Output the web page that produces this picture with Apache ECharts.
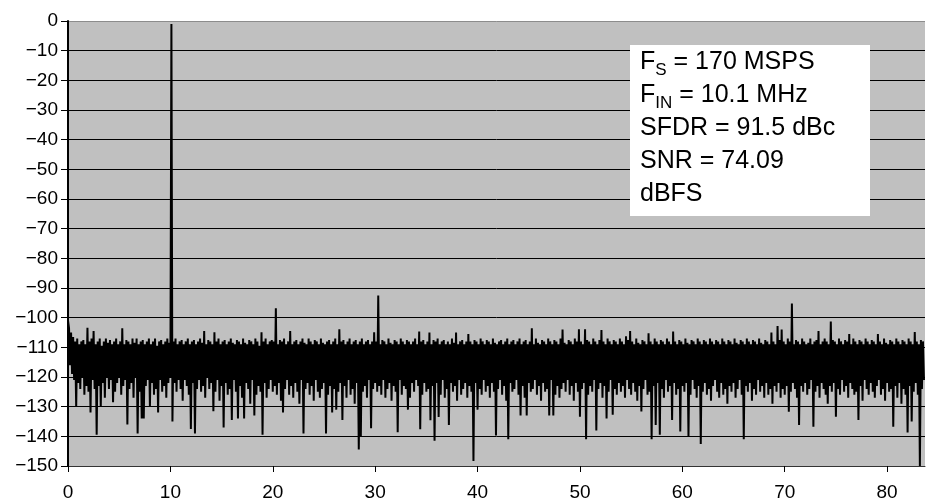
<!DOCTYPE html>
<html>
<head>
<meta charset="utf-8">
<script src="https://cdn.jsdelivr.net/npm/echarts@6/dist/echarts.min.js"></script>
<style>html,body{margin:0;padding:0;background:#fff;}#c{width:927px;height:504px;}</style>
</head>
<body>
<div id="c"></div>
<script>
// FFT magnitude (dBFS) in bins every 0.1 MHz; one row = 1 MHz.
var binStep = 0.1;
var fft0_10 = [
-101,-103.5,-116,-105,-119,-106.5,-121,-108,-130,-107,
-122,-109,-124,-108,-120,-107.5,-126,-109,-123,-103.4,
-125,-108,-132,-107,-121,-104.5,-124,-109,-139.5,-108,
-123,-107,-130,-109.5,-122,-108,-127,-107,-120,-108.5,
-124,-107.5,-121,-109,-128.5,-108,-125,-107,-122,-109,
-120,-108,-126,-103.6,-123,-109,-121,-107.5,-136,-108,
-124,-109,-122,-107,-127,-108.5,-120,-107,-139,-109,
-125,-108,-134,-107.5,-134,-109,-123,-108,-121,-107,
-130,-109,-122,-108,-126,-107,-124,-109.5,-132,-108,
-121,-107.5,-125,-109,-123,-108,-127,-107,-122,-108.5];
var fft10_20 = [
-120,-1,-135,-108,-122,-107,-125,-109,-121,-108,
-124,-107.5,-128,-109,-121,-108,-123,-107,-126,-109,
-137.5,-108,-122,-107.5,-139,-109,-124,-108,-121,-107,
-125,-108.5,-123,-104.5,-127,-109,-120,-107.5,-124,-108,
-122,-109,-131.5,-104.9,-125,-108,-121,-107,-128,-109,
-123,-108,-137,-107.5,-122,-109,-126,-108,-124,-107,
-134.5,-108.5,-121,-109,-125,-107.5,-134,-108,-123,-109,
-127,-107,-134,-108.5,-122,-109,-124,-107.5,-129,-108,
-121,-109,-133,-107,-126,-108,-123,-109.5,-125,-104.9,
-139.5,-108,-122,-107,-127,-109,-124,-108,-121,-107.5];
var fft20_30 = [
-125,-108,-123,-96.8,-126,-109,-122,-107.5,-128,-108,
-132,-107,-124,-109,-121,-108,-126,-104.5,-123,-109,
-127,-108,-122,-107.5,-125,-109,-129,-108,-121,-107,
-139,-108.5,-124,-109,-122,-107,-126,-108,-123,-109,
-128,-107.5,-121,-108,-125,-109,-127,-107,-124,-108.5,
-122,-109,-139,-108,-126,-107.5,-123,-109,-132,-108,
-124,-107,-131,-109,-125,-103.9,-122,-108,-134.5,-107.5,
-123,-109,-127,-108,-121,-107,-126,-109,-124,-108,
-129,-107.5,-122,-109,-144.4,-108,-140,-107,-125,-109,
-123,-108,-127,-107.5,-121,-109,-137.3,-108,-124,-104.9];
var fft30_40 = [
-122,-108,-125,-92.5,-123,-109,-126,-107.5,-121,-108,
-127,-109,-124,-107,-122,-108.5,-128,-109,-123,-107.5,
-125,-108,-138.6,-109,-121,-107,-126,-108,-123,-109,
-124,-107.5,-131,-108,-127,-109,-122,-108,-125,-107,
-121,-109,-123,-104.7,-137.6,-108,-126,-107.5,-122,-109,
-125,-108,-124,-105,-134.6,-109,-123,-107.5,-141.5,-108,
-122,-107,-133.5,-109,-126,-108,-121,-107.5,-127,-109,
-124,-108,-136.2,-109,-122,-107,-125,-108.5,-123,-105,
-128,-109,-121,-108,-126,-107.5,-124,-109,-122,-108,
-127,-105.5,-123,-108,-125,-109,-148.3,-107.5,-122,-108];
var fft40_50 = [
-131,-109,-124,-107,-126,-108,-121,-109,-125,-107.5,
-123,-108,-127,-109,-122,-107,-125,-108.5,-139.7,-109,
-124,-108,-121,-107.5,-126,-109,-123,-108,-128,-107,
-141,-109,-122,-108,-125,-107.5,-124,-109,-121,-108,
-126,-107,-133,-109,-123,-108,-127,-107.5,-133,-109,
-122,-108,-125,-103.6,-124,-109,-121,-107,-126,-108.5,
-123,-109,-128,-107.5,-122,-108,-125,-109,-124,-107,
-133,-108,-121,-109,-133,-107.5,-126,-108,-123,-109,
-127,-107,-124,-104,-122,-108.5,-125,-109,-121,-107.5,
-126,-108,-123,-109,-128,-107,-122,-108,-125,-103.9];
var fft50_60 = [
-133.4,-108,-124,-109,-122,-103.9,-141,-107.5,-126,-108,
-123,-109,-125,-107,-121,-108,-138,-109,-124,-107.5,
-122,-104.2,-127,-108,-123,-109,-134,-107,-125,-108,
-121,-109,-132.7,-107.5,-124,-108,-126,-109,-122,-107,
-125,-108,-123,-109,-127,-106.3,-121,-107.5,-124,-104.5,
-126,-108,-122,-109,-125,-107,-128,-108.5,-123,-109,
-131.6,-107.5,-124,-108,-121,-109,-126,-105.3,-125,-108,
-141,-109,-123,-107,-136.2,-108,-122,-109,-139.5,-107.5,
-124,-108,-127,-109,-121,-107,-125,-108,-123,-109,
-134.5,-104.7,-122,-108,-126,-109,-124,-107.5,-138.4,-108];
var fft60_70 = [
-123,-109,-125,-107,-122,-108.5,-140,-109,-126,-107.5,
-121,-108,-124,-109,-127,-107,-123,-108,-142.6,-109,
-125,-107.5,-122,-108,-126,-109,-124,-107,-128,-108,
-123,-109,-121,-107.5,-125,-108,-127,-109,-122,-107,
-126,-108,-124,-109,-129,-107.5,-123,-108,-125,-109,
-122,-107,-127,-108.5,-124,-109,-121,-107.5,-126,-108,
-141,-109,-123,-107,-125,-108,-122,-109,-128,-107.5,
-124,-108,-126,-109,-121,-107,-125,-108.5,-123,-109,
-127,-107.5,-122,-108,-126,-109,-124,-105,-129,-108,
-123,-109,-125,-102.8,-122,-107.5,-127,-104,-124,-108];
var fft70_80 = [
-126,-109,-123,-107,-131.7,-108,-125,-95.2,-122,-109,
-124,-107.5,-127,-108,-136.2,-109,-123,-107,-125,-108,
-122,-109,-126,-108.5,-124,-107,-121,-109,-136.8,-108,
-125,-107.5,-123,-104.5,-127,-109,-122,-108,-124,-107,
-126,-108,-129,-109,-123,-101.3,-125,-107.5,-122,-108,
-133.4,-109,-124,-107,-126,-108,-121,-109,-125,-107.5,
-123,-108,-127,-105.5,-122,-109,-124,-107,-126,-108,
-125,-109,-134.5,-107.5,-123,-108,-128,-109,-121,-107,
-124,-108,-126,-109,-122,-107.5,-125,-108,-127,-109,
-123,-105.5,-121,-108,-126,-109,-124,-107,-128,-108.5];
var fft80_84 = [
-122,-109,-125,-107.5,-124,-108,-136.8,-109,-123,-107,
-127,-108,-122,-109,-129,-107.5,-124,-108,-126,-109,
-138.7,-107,-123,-108,-135,-109,-125,-104.8,-122,-108,
-126,-109,-150,-107.5,-124,-108,-121];
var xTicks = [0,10,20,30,40,50,60,70,80];
var yTicks = [0,-10,-20,-30,-40,-50,-60,-70,-80,-90,-100,-110,-120,-130,-140,-150];
var infoLines = ['F|S| = 170 MSPS','F|IN| = 10.1 MHz','SFDR = 91.5 dBc','SNR = 74.09','dBFS'];

var values = [].concat(fft0_10,fft10_20,fft20_30,fft30_40,fft40_50,fft50_60,fft60_70,fft70_80,fft80_84);
var data = values.map(function(v,i){ return [Math.round(i*binStep*100)/100, v]; });

var FONT = 'Liberation Sans, Arial, sans-serif';
var richText = infoLines.map(function(l){
  var p = l.split('|');
  if (p.length === 3) return '{n|'+p[0]+'}{s|'+p[1]+'}{n|'+p[2]+'}';
  return '{n|'+l+'}';
}).join('\n');

var splitColors = yTicks.slice().reverse().map(function(t){ return t === 0 ? '#8c8c8c' : '#000'; });

var chart = echarts.init(document.getElementById('c'), null, {renderer:'canvas'});
chart.setOption({
  animation:false,
  backgroundColor:'#fff',
  grid:{left:68, top:21, right:2, bottom:38, show:true, backgroundColor:'#c0c0c0', borderWidth:0},
  xAxis:{
    type:'value', min:0, max:83.7, interval:10,
    axisLine:{show:true, onZero:false, lineStyle:{color:'#333', width:1}},
    axisTick:{show:true, length:6, inside:false, customValues:xTicks, lineStyle:{color:'#000'}},
    axisLabel:{customValues:xTicks, fontFamily:FONT, fontSize:19, color:'#000', margin:17},
    splitLine:{show:false}
  },
  yAxis:{
    type:'value', min:-150, max:0, interval:10,
    axisLine:{show:true, lineStyle:{color:'#000', width:2}},
    axisTick:{show:true, length:7, lineStyle:{color:'#000'}},
    axisLabel:{fontFamily:FONT, fontSize:19, color:'#000', margin:10,
      formatter:function(v){ return v<0 ? '\u2212'+Math.abs(v) : String(v); }},
    splitLine:{show:true, lineStyle:{color:splitColors, width:1}}
  },
  series:[{
    type:'line', data:data, showSymbol:false, symbol:'none', sampling:false,
    lineStyle:{color:'#000', width:2}, clip:true, z:3
  }],
  graphic:[
    {type:'rect', left:630, top:45, z:10, shape:{width:240, height:171}, style:{fill:'#fff'}},
    {type:'text', left:640, top:50, z:11, style:{
      text:richText, fill:'#000', font:'25px '+FONT,
      rich:{
        n:{fontSize:25, lineHeight:33, fontFamily:FONT, fill:'#000'},
        s:{fontSize:17, lineHeight:17, fontFamily:FONT, fill:'#000', verticalAlign:'bottom'}
      }
    }}
  ]
});
</script>
</body>
</html>
